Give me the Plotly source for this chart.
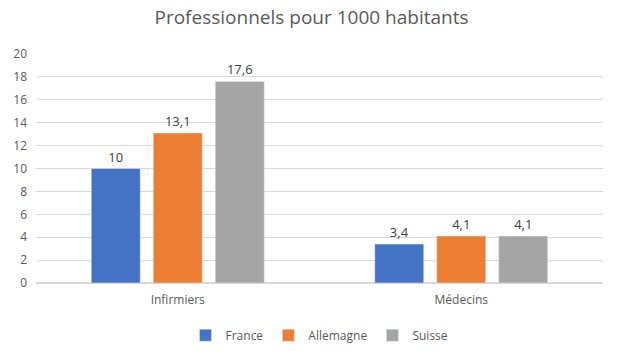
import plotly.graph_objects as go

categories = ["Infirmiers", "Médecins"]
series_names = ["France", "Allemagne", "Suisse"]
france = [10, 3.4]
allemagne = [13.1, 4.1]
suisse = [17.6, 4.1]
colors = ["#4472C4", "#ED7D31", "#A5A5A5"]
tick_vals = list(range(0, 21, 2))

fig = go.Figure()
for name, vals, c in zip(series_names, [france, allemagne, suisse], colors):
    fig.add_trace(go.Bar(
        x=categories, y=vals, name=name, marker_color=c,
        text=vals, texttemplate="%{y}", textposition="outside",
        textfont=dict(size=13, color="#404040"), cliponaxis=False,
    ))

fig.update_layout(
    width=623, height=351,
    margin=dict(l=36, r=20, t=54, b=68, autoexpand=False),
    paper_bgcolor="white", plot_bgcolor="white",
    separators=", ",
    font=dict(family="Open Sans, Liberation Sans, sans-serif", color="#595959"),
    title=dict(text="Professionnels pour 1000 habitants", x=0.5, xanchor="center",
               y=0.95, yanchor="middle", font=dict(size=19, color="#595959")),
    barmode="group", bargap=0.344, bargroupgap=0.21,
    legend=dict(orientation="h", x=0.5, xanchor="center", yref="container",
                y=0.045, yanchor="middle",
                font=dict(size=12, color="#595959"), itemwidth=30, traceorder="normal"),
    showlegend=True,
)
fig.update_yaxes(range=[0, 20], tickvals=tick_vals, showgrid=True, gridcolor="#D9D9D9",
                 gridwidth=1, zeroline=True, zerolinecolor="#D9D9D9", showline=False,
                 tickfont=dict(size=12, color="#595959"), ticks="", ticklabelstandoff=8)
fig.update_xaxes(showline=True, linecolor="#D9D9D9", tickfont=dict(size=12, color="#595959"),
                 ticks="", ticklabelstandoff=6)

fig.write_html("out.html")
